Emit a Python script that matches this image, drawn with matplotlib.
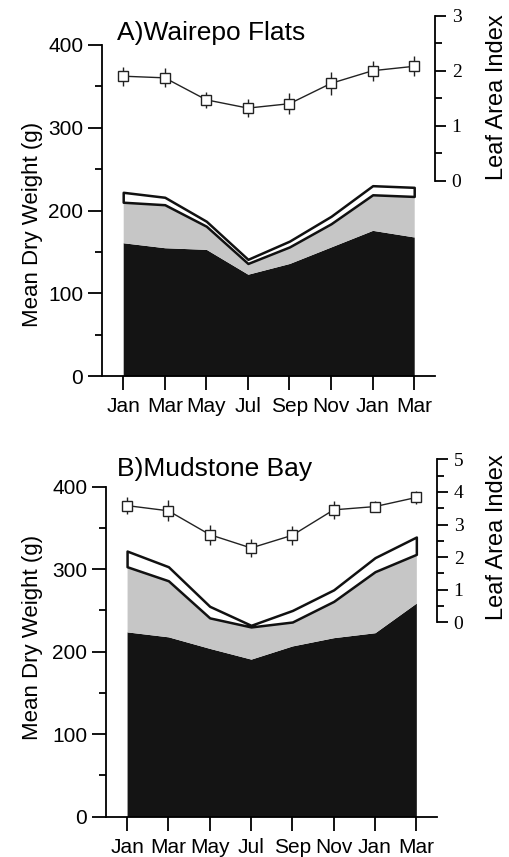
import matplotlib.pyplot as plt
from matplotlib.ticker import MultipleLocator, FixedLocator

months = ['Jan', 'Mar', 'May', 'Jul', 'Sep', 'Nov', 'Jan', 'Mar']

# A) Wairepo Flats - stacked dry weight (cumulative tops)
a_black = [161, 155, 153, 123, 136, 156, 176, 168]
a_gray = [210, 207, 181, 136, 156, 184, 219, 217]
a_white = [222, 216, 187, 141, 163, 193, 230, 228]
a_lai = [1.90, 1.87, 1.47, 1.32, 1.40, 1.77, 2.00, 2.08]
a_err = [0.17, 0.17, 0.15, 0.16, 0.19, 0.21, 0.18, 0.18]

# B) Mudstone Bay
b_black = [224, 218, 204, 191, 207, 217, 223, 259]
b_gray = [303, 286, 241, 230, 236, 261, 297, 318]
b_white = [322, 303, 255, 232, 250, 275, 314, 339]
b_lai = [3.58, 3.42, 2.69, 2.28, 2.67, 3.45, 3.55, 3.83]
b_err = [0.26, 0.32, 0.31, 0.29, 0.29, 0.28, 0.16, 0.21]

sans = 'Liberation Sans'
serif = 'Liberation Serif'
W, H = 509, 857

fig = plt.figure(figsize=(W / 100, H / 100), dpi=100)


def panel(rect, title, title_xy, black, gray, white, lai, err, lai_lim, lai_max, ylab_y, rlab_y):
    ax = fig.add_axes(rect)
    x = list(range(len(months)))
    ax.fill_between(x, 0, black, color='#141414', lw=0)
    ax.fill_between(x, black, gray, color='#c6c6c6', lw=0)
    ax.fill_between(x, gray, white, facecolor='white', edgecolor='#111111', lw=1.8)

    ax.set_xlim(-0.51, 7.5)
    ax.set_ylim(0, 440)
    ax.spines['top'].set_visible(False)
    ax.spines['right'].set_visible(False)
    ax.spines['left'].set_bounds(0, 400)
    for s in ('left', 'bottom'):
        ax.spines[s].set_linewidth(1.3)
    ax.set_yticks([0, 100, 200, 300, 400])
    ax.yaxis.set_minor_locator(MultipleLocator(50))
    ax.set_xticks(x)
    ax.set_xticklabels(months)
    ax.tick_params(axis='both', which='major', length=10, width=1.3, labelsize=15)
    ax.tick_params(axis='y', which='minor', length=5, width=1.3)
    ax.tick_params(axis='x', pad=5)
    for lab in ax.get_xticklabels() + ax.get_yticklabels():
        lab.set_family(sans)

    ax2 = ax.twinx()
    ax2.errorbar(x, lai, yerr=err, color='#222222', lw=1.0, elinewidth=1.0, capsize=0,
                 marker='s', ms=7, mfc='white', mec='#222222', mew=1.0)
    ax2.set_ylim(*lai_lim)
    for s in ('left', 'top', 'bottom'):
        ax2.spines[s].set_visible(False)
    ax2.spines['right'].set_bounds(0, lai_max)
    ax2.spines['right'].set_linewidth(1.3)
    ax2.set_yticks(range(lai_max + 1))
    ax2.yaxis.set_minor_locator(FixedLocator([i * 0.5 for i in range(2 * lai_max + 1)]))
    ax2.tick_params(axis='y', which='major', length=8, width=1.3, labelsize=14, pad=4)
    ax2.tick_params(axis='y', which='minor', length=5, width=1.3)
    for lab in ax2.get_yticklabels():
        lab.set_family(serif)

    fig.text(33 / W, 1 - ylab_y / H, 'Mean Dry Weight (g)', rotation=90, ha='center', va='center',
             fontsize=16, family=sans)
    fig.text(497 / W, 1 - rlab_y / H, 'Leaf Area Index', rotation=90, ha='center', va='center',
             fontsize=17, family=sans)
    fig.text(title_xy[0] / W, 1 - title_xy[1] / H, title, ha='left', va='baseline',
             fontsize=19, family=sans)


# panel A: x 102..435 px, y=0 at 376 px
panel([102 / W, 1 - 376 / H, 333 / W, 440 * 0.8275 / H], 'A)Wairepo Flats', (117, 40),
      a_black, a_gray, a_white, a_lai, a_err, (-3.551, 3.069), 3, 224, 97)
# panel B: x 106..437 px, y=0 at 816.7 px
panel([106 / W, 1 - 816.7 / H, 331 / W, 440 * 0.825 / H], 'B)Mudstone Bay', (117, 476),
      b_black, b_gray, b_white, b_lai, b_err, (-5.963, 5.172), 5, 637, 537)

fig.savefig('out.png', dpi=100)
